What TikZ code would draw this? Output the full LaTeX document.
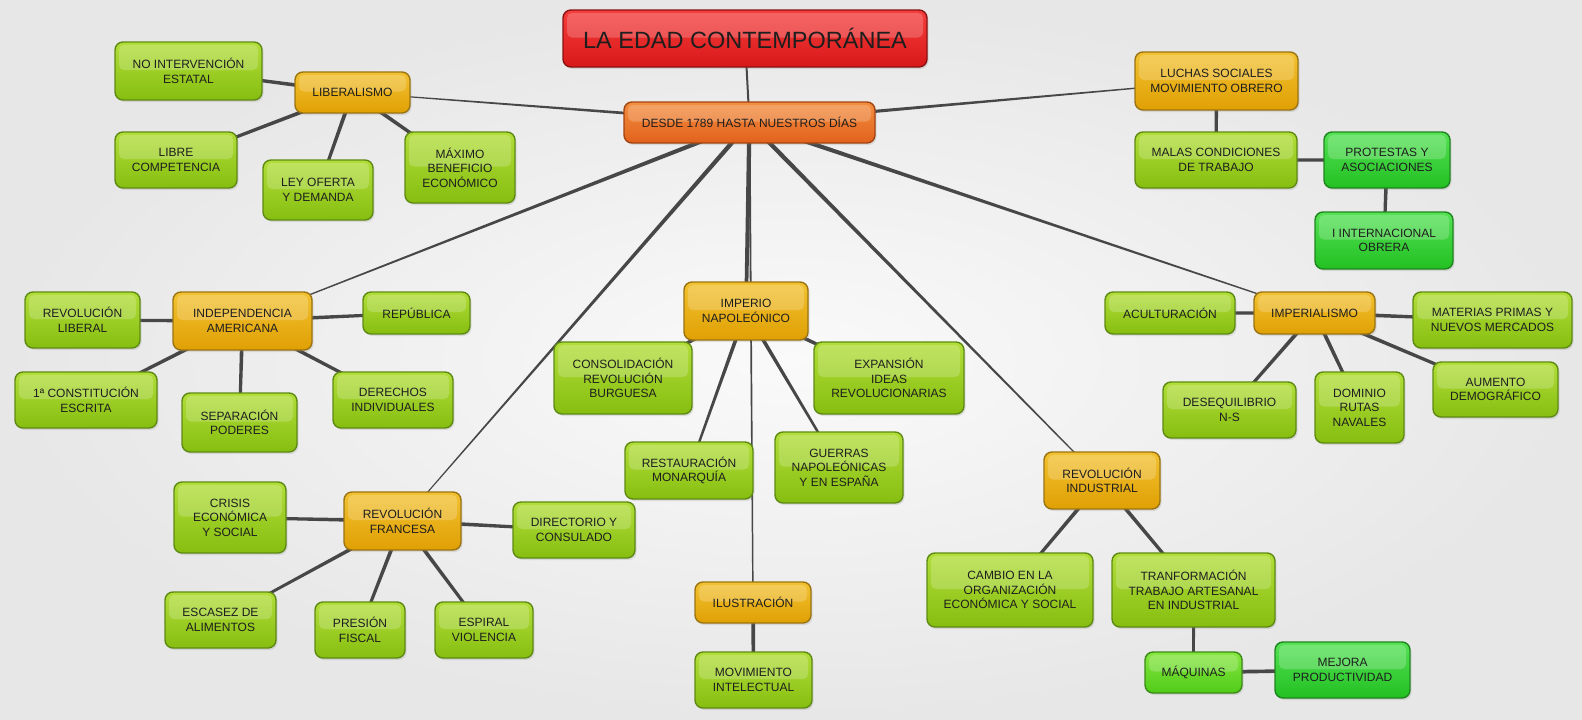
\documentclass[tikz,border=0pt]{standalone}
\usepackage{fontspec}
\setmainfont{Liberation Sans}
\usetikzlibrary{calc,shadows}
\definecolor{bgc}{HTML}{EEEEEE}
\definecolor{linkc}{HTML}{474747}
\definecolor{txt}{HTML}{1E1E1E}
\definecolor{rdT}{HTML}{F53E3E}\definecolor{rdD}{HTML}{D91818}\definecolor{rdB}{HTML}{8A1212}
\definecolor{orT}{HTML}{F38E40}\definecolor{orD}{HTML}{E2621C}\definecolor{orB}{HTML}{A24412}
\definecolor{gdT}{HTML}{F2C232}\definecolor{gdD}{HTML}{E0A004}\definecolor{gdB}{HTML}{9A7412}
\definecolor{lgT}{HTML}{B2DE3A}\definecolor{lgD}{HTML}{86BE10}\definecolor{lgB}{HTML}{5E8A14}
\definecolor{bgT}{HTML}{56E256}\definecolor{bgD}{HTML}{22C022}\definecolor{bgB}{HTML}{1E861E}
\definecolor{mgT}{HTML}{86E640}\definecolor{mgD}{HTML}{50CC18}\definecolor{mgB}{HTML}{3A8A16}
\pgfdeclarelayer{bglayer}\pgfdeclarelayer{links}
\pgfsetlayers{bglayer,links,main}
\newcommand\conn[4]{\fill[linkc] ($(#1)!#3!90:(#2)$) -- ($(#2)!#4!-90:(#1)$) -- ($(#2)!#4!90:(#1)$) -- ($(#1)!#3!-90:(#2)$) -- cycle;}
\tikzset{
  box/.style={rounded corners=8pt, line width=1.4pt, align=center, inner sep=2pt,
    text=txt, font=\fontsize{12}{14.5}\selectfont,
    drop shadow={opacity=0.2, shadow xshift=1.5pt, shadow yshift=-2pt},
    path picture={\fill[white,opacity=0.2,rounded corners=5pt]
      ([xshift=4pt,yshift=-3pt]path picture bounding box.north west) rectangle
      ([xshift=-4pt,yshift=1pt]path picture bounding box.east);}},
  titlebox/.style={box, draw=rdB, top color=rdT, bottom color=rdD, font=\fontsize{23.5}{28}\selectfont},
  orbox/.style={box, draw=orB, top color=orT, bottom color=orD},
  gdbox/.style={box, draw=gdB, top color=gdT, bottom color=gdD},
  lgbox/.style={box, draw=lgB, top color=lgT, bottom color=lgD},
  bgbox/.style={box, draw=bgB, top color=bgT, bottom color=bgD},
  mgbox/.style={box, draw=mgB, top color=mgT, bottom color=mgD},
  sz/.style 2 args={minimum width=#1pt, minimum height=#2pt}
}
\begin{document}
\begin{tikzpicture}[x=1pt,y=-1pt]
\begin{pgfonlayer}{bglayer}
\shade[inner color=white!70!bgc, outer color=bgc!97!black] (0,0) rectangle (1582,720);
\end{pgfonlayer}
\useasboundingbox (0,0) rectangle (1582,720);
% nodes
\node[titlebox, sz={364}{57}] (title) at (745,38.5) {LA EDAD CONTEMPORÁNEA};
\node[orbox, sz={251}{41}] (desde) at (749.5,122.5) {DESDE 1789 HASTA NUESTROS DÍAS};
% liberalismo
\node[gdbox, sz={115}{41}] (lib) at (352.5,92.5) {LIBERALISMO};
\node[lgbox, sz={147}{58}] (nointerv) at (188.5,71) {NO INTERVENCIÓN\\ESTATAL};
\node[lgbox, sz={122}{56}] (libre) at (176,160) {LIBRE\\COMPETENCIA};
\node[lgbox, sz={110}{60}] (ley) at (318,190) {LEY OFERTA\\Y DEMANDA};
\node[lgbox, sz={110}{71}] (maximo) at (460,167.5) {MÁXIMO\\BENEFICIO\\ECONÓMICO};
% luchas
\node[gdbox, sz={163}{58}] (luchas) at (1216.5,81) {LUCHAS SOCIALES\\MOVIMIENTO OBRERO};
\node[lgbox, sz={162}{56}] (malas) at (1216,160) {MALAS CONDICIONES\\DE TRABAJO};
\node[bgbox, sz={126}{56}] (protestas) at (1387,160) {PROTESTAS Y\\ASOCIACIONES};
\node[bgbox, sz={138}{57}] (internac) at (1384,240.5) {I INTERNACIONAL\\OBRERA};
% independencia
\node[gdbox, sz={139}{58}] (indep) at (242.5,321) {INDEPENDENCIA\\AMERICANA};
\node[lgbox, sz={115}{56}] (revlib) at (82.5,320) {REVOLUCIÓN\\LIBERAL};
\node[lgbox, sz={107}{42}] (republica) at (416.5,313) {REPÚBLICA};
\node[lgbox, sz={142}{56}] (constit) at (86,400) {1ª CONSTITUCIÓN\\ESCRITA};
\node[lgbox, sz={115}{59}] (separacion) at (239.5,422.5) {SEPARACIÓN\\PODERES};
\node[lgbox, sz={120}{56}] (derechos) at (393,400) {DERECHOS\\INDIVIDUALES};
% imperio
\node[gdbox, sz={124}{58}] (imperio) at (746,311) {IMPERIO\\NAPOLEÓNICO};
\node[lgbox, sz={138}{72}] (consol) at (623,378) {CONSOLIDACIÓN\\REVOLUCIÓN\\BURGUESA};
\node[lgbox, sz={150}{72}] (expansion) at (889,378) {EXPANSIÓN\\IDEAS\\REVOLUCIONARIAS};
\node[lgbox, sz={128}{57}] (restaur) at (689,470.5) {RESTAURACIÓN\\MONARQUÍA};
\node[lgbox, sz={128}{71}] (guerras) at (839,467.5) {GUERRAS\\NAPOLEÓNICAS\\Y EN ESPAÑA};
% imperialismo
\node[gdbox, sz={121}{42}] (imperialismo) at (1314.5,313) {IMPERIALISMO};
\node[lgbox, sz={130}{42}] (acult) at (1170,313) {ACULTURACIÓN};
\node[lgbox, sz={159}{56}] (materias) at (1492.5,320) {MATERIAS PRIMAS Y\\NUEVOS MERCADOS};
\node[lgbox, sz={133}{56}] (deseq) at (1229.5,410) {DESEQUILIBRIO\\N-S};
\node[lgbox, sz={89}{71}] (dominio) at (1359.5,407.5) {DOMINIO\\RUTAS\\NAVALES};
\node[lgbox, sz={125}{55}] (aumento) at (1495.5,389.5) {AUMENTO\\DEMOGRÁFICO};
% revolucion francesa
\node[gdbox, sz={117}{58}] (francesa) at (402.5,521) {REVOLUCIÓN\\FRANCESA};
\node[lgbox, sz={112}{71}] (crisis) at (230,517.5) {CRISIS\\ECONÓMICA\\Y SOCIAL};
\node[lgbox, sz={122}{56}] (directorio) at (574,530) {DIRECTORIO Y\\CONSULADO};
\node[lgbox, sz={111}{56}] (escasez) at (220.5,620) {ESCASEZ DE\\ALIMENTOS};
\node[lgbox, sz={90}{56}] (presion) at (360,630) {PRESIÓN\\FISCAL};
\node[lgbox, sz={98}{56}] (espiral) at (484,630) {ESPIRAL\\VIOLENCIA};
% ilustracion
\node[gdbox, sz={116}{41}] (ilustracion) at (753,602.5) {ILUSTRACIÓN};
\node[lgbox, sz={117}{56}] (movimiento) at (753.5,680) {MOVIMIENTO\\INTELECTUAL};
% revolucion industrial
\node[gdbox, sz={116}{57}] (revind) at (1102,480.5) {REVOLUCIÓN\\INDUSTRIAL};
\node[lgbox, sz={166}{74}] (cambio) at (1010,590) {CAMBIO EN LA\\ORGANIZACIÓN\\ECONÓMICA Y SOCIAL};
\node[lgbox, sz={163}{74}] (tranf) at (1193.5,590) {TRANFORMACIÓN\\TRABAJO ARTESANAL\\EN INDUSTRIAL};
\node[mgbox, sz={97}{41}] (maquinas) at (1193.5,672.5) {MÁQUINAS};
\node[bgbox, sz={135}{56}] (mejora) at (1342.5,670) {MEJORA\\PRODUCTIVIDAD};
% connectors
\begin{pgfonlayer}{links}
\conn{title}{desde}{1pt}{1pt}
\conn{desde}{lib}{1.8pt}{0.4pt}
\conn{desde}{luchas}{2pt}{0.4pt}
\conn{desde}{indep}{2.3pt}{0.4pt}
\conn{desde}{francesa}{2.3pt}{0.4pt}
\conn{desde}{ilustracion}{1pt}{0.7pt}
\conn{desde}{imperio}{2.2pt}{1.8pt}
\conn{desde}{revind}{2.3pt}{0.5pt}
\conn{desde}{imperialismo}{2.3pt}{0.5pt}
\conn{lib}{nointerv}{2pt}{1.4pt}
\conn{lib}{libre}{2pt}{1.4pt}
\conn{lib}{ley}{2pt}{1.4pt}
\conn{lib}{maximo}{2pt}{1.4pt}
\conn{luchas}{malas}{2pt}{1.4pt}
\conn{malas}{protestas}{2pt}{1.4pt}
\conn{protestas}{internac}{2pt}{1.4pt}
\conn{indep}{revlib}{2pt}{1.4pt}
\conn{indep}{republica}{2pt}{1.4pt}
\conn{indep}{constit}{2pt}{1.4pt}
\conn{indep}{separacion}{2pt}{1.4pt}
\conn{indep}{derechos}{2pt}{1.4pt}
\conn{imperio}{consol}{2pt}{1.4pt}
\conn{imperio}{expansion}{2pt}{1.4pt}
\conn{imperio}{restaur}{2pt}{1pt}
\conn{imperio}{guerras}{2pt}{1pt}
\conn{imperialismo}{acult}{2pt}{1.4pt}
\conn{imperialismo}{materias}{2pt}{1.4pt}
\conn{imperialismo}{deseq}{2pt}{1.4pt}
\conn{imperialismo}{dominio}{2pt}{1.4pt}
\conn{imperialismo}{aumento}{2pt}{1.4pt}
\conn{francesa}{crisis}{2pt}{1.4pt}
\conn{francesa}{directorio}{2pt}{1.4pt}
\conn{francesa}{escasez}{2pt}{1.2pt}
\conn{francesa}{presion}{2pt}{1.4pt}
\conn{francesa}{espiral}{2pt}{1.4pt}
\conn{ilustracion}{movimiento}{2pt}{1.6pt}
\conn{revind}{cambio}{2pt}{1.4pt}
\conn{revind}{tranf}{2pt}{1.4pt}
\conn{tranf}{maquinas}{1.6pt}{1.4pt}
\conn{maquinas}{mejora}{2pt}{1.6pt}
\end{pgfonlayer}
\end{tikzpicture}
\end{document}
